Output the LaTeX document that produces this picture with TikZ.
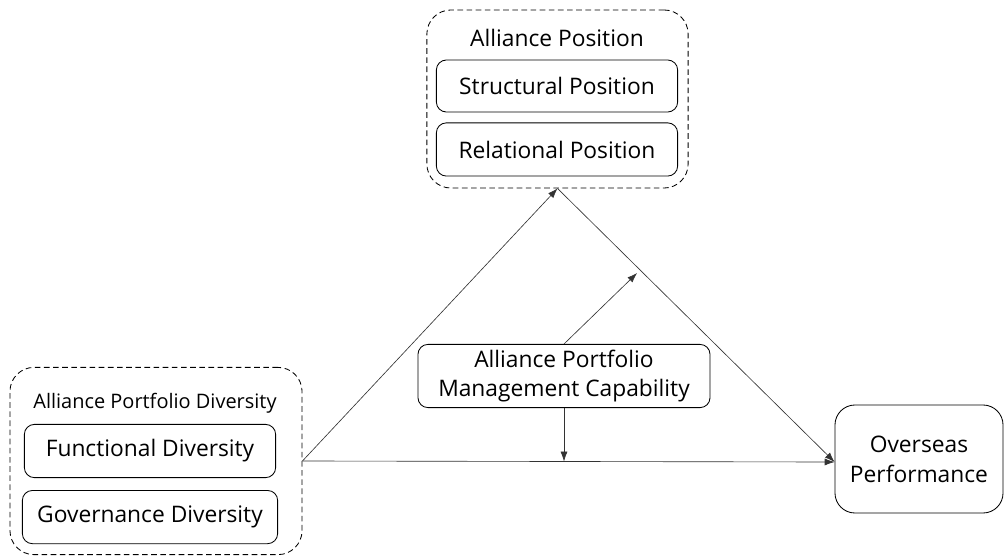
\documentclass[tikz,border=0pt]{standalone}
\usepackage{fontspec}
\setmainfont{Open Sans}
\usetikzlibrary{positioning, arrows.meta, calc}

\tikzset{
    inner/.style={draw, rectangle, rounded corners=0.25cm, line width=0.6pt, align=center, inner sep=0pt},
    group/.style={draw, rectangle, rounded corners=0.6cm, dash pattern=on 4pt off 2.5pt, line width=0.6pt, inner sep=0pt},
    link/.style={-{Latex[length=7pt,width=5pt]}, line width=0.45pt, draw=black!80}
}

\begin{document}
\begin{tikzpicture}[x=0.025cm, y=-0.025cm, font=\fontsize{16.2}{21.3}\selectfont]
    \useasboundingbox (0,0) rectangle (1004,558);

    % alliance position
    \node[group, minimum width=6.53cm, minimum height=4.45cm] (pos) at (557.5,99) {};
    \node (postitle) at (557,38) {Alliance Position};
    \node[inner, minimum width=6.03cm, minimum height=1.3cm] (struct) at (557,86) {Structural Position};
    \node[inner, minimum width=6.03cm, minimum height=1.33cm] (rel) [below=0.25cm of struct] {Relational Position};

    % alliance portfolio diversity
    \node[group, minimum width=7.3cm, minimum height=4.68cm] (div) at (156,461) {};
    \node (divtitle) at (155,403) {\fontsize{14.2}{17}\selectfont Alliance Portfolio Diversity};
    \node[inner, minimum width=6.28cm, minimum height=1.33cm] (func) at (150,451) {Functional Diversity};
    \node[inner, minimum width=6.38cm, minimum height=1.33cm] (gov) [below=0.3cm of func] {Governance Diversity};

    % moderator and outcome
    \node[inner, minimum width=7.3cm, minimum height=1.58cm] (apmc) at (564,376) {Alliance Portfolio\\Management Capability};
    \node[inner, rounded corners=0.5cm, minimum width=4.2cm, minimum height=2.7cm] (perf) at (919,459) {Overseas\\Performance};

    \coordinate (divout) at (div.east);
    \coordinate (posin) at (pos.south);
    \coordinate (perfin) at ($(perf.west)+(0,3)$);

    \draw[link] (divout) -- (posin);
    \draw[link] (posin) -- (perfin);
    \draw[link] (divout) -- (perfin);

    \coordinate (modup) at ($(posin)!0.28!(perfin)$);
    \coordinate (moddown) at ($(divout)!0.497!(perfin)$);
    \draw[link] (apmc.north) -- ($(modup)+(2,8)$);
    \draw[link] (apmc.south) -- (apmc.south |- moddown);
\end{tikzpicture}
\end{document}
